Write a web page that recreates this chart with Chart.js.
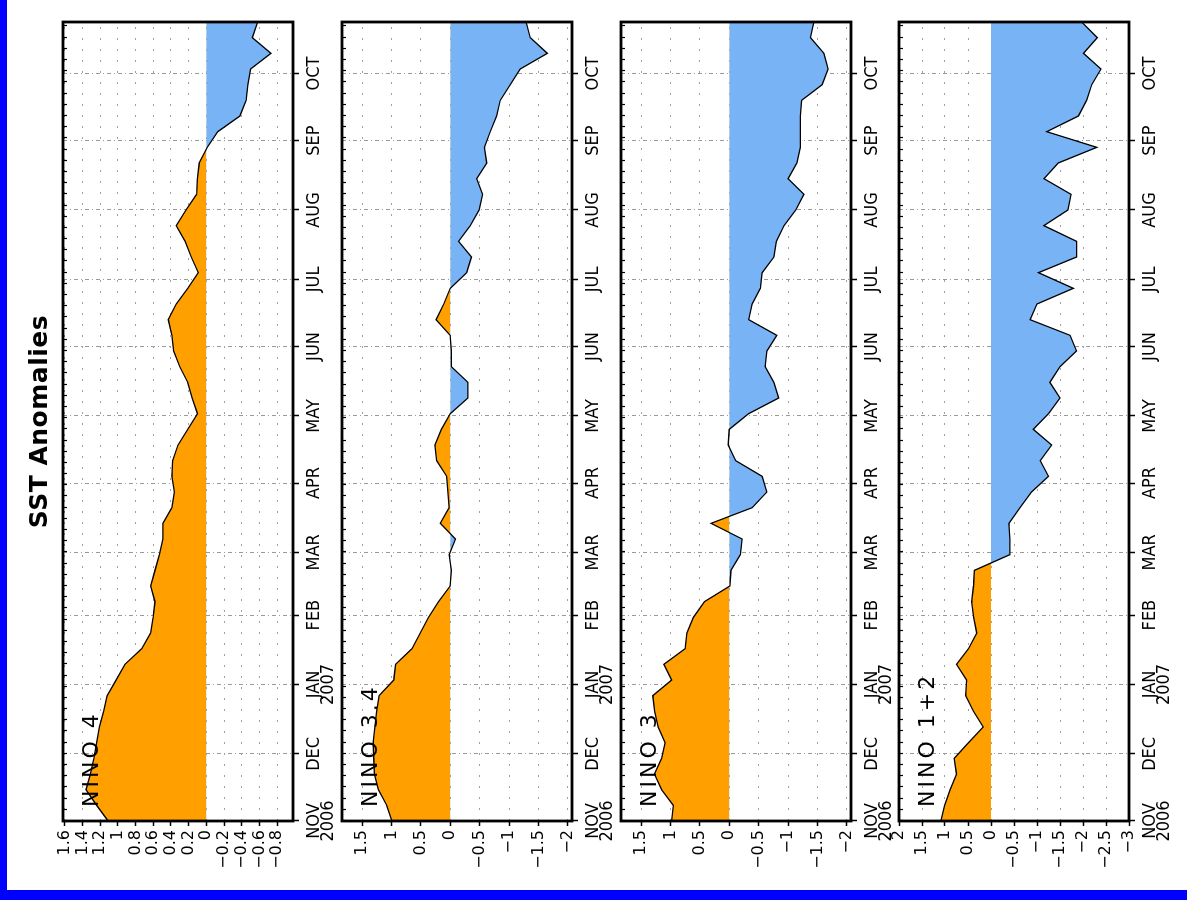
<!DOCTYPE html>
<html>
<head>
<meta charset="utf-8">
<title>SST Anomalies</title>
<script src="https://cdn.jsdelivr.net/npm/chart.js@4.4.1/dist/chart.umd.min.js"></script>
<style>
  html, body { margin: 0; padding: 0; background: #fff; overflow: hidden; }
  /* the sheet is laid out upright, then turned a quarter to the left */
  #page { position: absolute; left: 0; top: 0; width: 900px; height: 1187px; background: #fff;
          transform-origin: 0 0; transform: translate(0, 900px) rotate(-90deg); overflow: hidden; }
  #page canvas { position: absolute; left: 0; }
  .edge { position: absolute; background: #0000ff; }
</style>
</head>
<body>
<div id="page">
  <canvas id="c4" width="900" height="338" style="top:0"></canvas>
  <canvas id="c34" width="900" height="290" style="top:327px"></canvas>
  <canvas id="c3" width="900" height="290" style="top:606px"></canvas>
  <canvas id="c12" width="900" height="290" style="top:884px"></canvas>
  <div class="edge" style="left:0;top:0;width:900px;height:7px"></div>
  <div class="edge" style="left:0;top:0;width:10px;height:1187px"></div>
</div>
<script>
// weekly centres (Wednesdays)
const weeks = [
  "2006-11-01","2006-11-08","2006-11-15","2006-11-22","2006-11-29",
  "2006-12-06","2006-12-13","2006-12-20","2006-12-27",
  "2007-01-03","2007-01-10","2007-01-17","2007-01-24","2007-01-31",
  "2007-02-07","2007-02-14","2007-02-21","2007-02-28",
  "2007-03-07","2007-03-14","2007-03-21","2007-03-28",
  "2007-04-04","2007-04-11","2007-04-18","2007-04-25",
  "2007-05-02","2007-05-09","2007-05-16","2007-05-23","2007-05-30",
  "2007-06-06","2007-06-13","2007-06-20","2007-06-27",
  "2007-07-04","2007-07-11","2007-07-18","2007-07-25",
  "2007-08-01","2007-08-08","2007-08-15","2007-08-22","2007-08-29",
  "2007-09-05","2007-09-12","2007-09-19","2007-09-26",
  "2007-10-03","2007-10-10","2007-10-17","2007-10-24"
];

// SST anomalies (deg C)
const nino4 = [1.11,1.24,1.36,1.31,1.27,1.24,1.21,1.16,1.12,1.02,0.92,0.73,0.63,0.60,0.58,0.63,0.58,0.53,0.49,0.49,
  0.39,0.36,0.39,0.38,0.32,0.21,0.10,0.16,0.21,0.30,0.37,0.39,0.43,0.34,0.21,0.09,0.17,0.24,0.34,0.23,
  0.11,0.10,0.08,-0.01,-0.13,-0.38,-0.45,-0.47,-0.50,-0.73,-0.52,-0.58];
const nino34 = [0.99,1.08,1.22,1.29,1.30,1.31,1.28,1.25,1.21,0.96,0.93,0.65,0.51,0.37,0.20,0.00,-0.02,0.02,-0.09,0.17,
  0.02,0.04,0.06,0.23,0.26,0.15,0.00,-0.30,-0.30,-0.02,-0.02,0.00,0.24,0.11,0.00,-0.28,-0.36,-0.14,-0.34,-0.49,
  -0.55,-0.45,-0.62,-0.58,-0.68,-0.79,-0.85,-1.02,-1.19,-1.65,-1.36,-1.29];
const nino3 = [0.98,0.95,1.15,1.27,1.15,1.09,1.21,1.27,1.30,0.98,1.11,0.75,0.72,0.61,0.42,-0.01,-0.03,-0.19,-0.22,0.31,
  -0.39,-0.64,-0.56,-0.11,0.02,0.00,-0.33,-0.84,-0.76,-0.61,-0.64,-0.81,-0.33,-0.39,-0.53,-0.56,-0.76,-0.80,-0.93,-1.13,
  -1.27,-1.00,-1.15,-1.21,-1.21,-1.21,-1.23,-1.58,-1.68,-1.61,-1.38,-1.44];
const nino12 = [1.09,1.01,0.89,0.75,0.80,0.49,0.17,0.38,0.55,0.53,0.75,0.49,0.31,0.38,0.42,0.38,0.36,-0.41,-0.41,-0.39,
  -0.63,-0.88,-1.25,-1.07,-1.32,-0.92,-1.25,-1.50,-1.28,-1.50,-1.86,-1.72,-0.85,-1.00,-1.79,-1.03,-1.86,-1.86,-1.15,-1.67,
  -1.74,-1.15,-1.46,-2.30,-1.21,-1.90,-2.08,-2.19,-2.39,-2.01,-2.31,-1.97];

// time axis
const monthStarts = ["2006-11-01","2006-12-01","2007-01-01","2007-02-01","2007-03-01","2007-04-01",
  "2007-05-01","2007-06-01","2007-07-01","2007-08-01","2007-09-01","2007-10-01"];
const monthLabels = [["NOV","2006"],"DEC",["JAN","2007"],"FEB","MAR","APR","MAY","JUN","JUL","AUG","SEP","OCT"];

// value axes
const nino4Ticks = [1.6,1.4,1.2,1,0.8,0.6,0.4,0.2,0,-0.2,-0.4,-0.6,-0.8];
const nino34Ticks = [1.5,1,0.5,0,-0.5,-1,-1.5,-2];
const nino3Ticks = [1.5,1,0.5,0,-0.5,-1,-1.5,-2];
const nino12Ticks = [2,1.5,1,0.5,0,-0.5,-1,-1.5,-2,-2.5,-3];

const t0 = Date.parse(weeks[0]);
const dayOf = d => (Date.parse(d) - t0) / 86400000;
const lastDay = dayOf(weeks[weeks.length - 1]);
const fmt = v => (v < 0 ? "\u2212" : "") + String(Math.abs(v));

const FONT = "'DejaVu Sans', 'Liberation Sans', sans-serif";
const NARROW = "'DejaVu Sans Condensed', 'Liberation Sans Narrow', 'DejaVu Sans', sans-serif";

// frame, minor ticks, area name and sheet title
const framePlugin = {
  id: "panelFrame",
  afterDraw(chart, args, opts) {
    const { ctx, chartArea: a, scales } = chart;
    ctx.save();
    ctx.strokeStyle = "#000";
    ctx.lineWidth = 1.2;
    ctx.beginPath();
    for (let d = 0; d <= lastDay; d += 5) {
      const x = Math.round(scales.x.getPixelForValue(d)) + 0.5;
      ctx.moveTo(x, a.top);
      ctx.lineTo(x, a.top + 4);
    }
    ctx.stroke();
    ctx.lineWidth = 2.8;
    ctx.strokeRect(a.left, a.top, a.right - a.left, a.bottom - a.top);

    ctx.fillStyle = "#000";
    ctx.textBaseline = "alphabetic";
    ctx.textAlign = "left";
    ctx.font = "22px " + FONT;
    ctx.letterSpacing = "3px";
    ctx.fillText(opts.name, a.left + 14, a.top + 35);
    if (opts.title) {
      ctx.letterSpacing = "0.5px";
      ctx.textAlign = "center";
      ctx.font = "bold 25px " + FONT;
      ctx.fillText(opts.title, (a.left + a.right) / 2, 47);
    }
    ctx.restore();
  }
};

function makePanel(id, values, tickVals, yMin, yMax, name, padTop, title) {
  new Chart(document.getElementById(id), {
    type: "line",
    data: {
      datasets: [{
        data: weeks.map((d, i) => ({ x: dayOf(d), y: values[i] })),
        borderColor: "#000",
        borderWidth: 1.3,
        pointRadius: 0,
        tension: 0,
        fill: { target: { value: 0 }, above: "#ffa000", below: "#78b4f5" }
      }]
    },
    options: {
      responsive: false,
      animation: false,
      layout: { padding: { left: 0, right: 22, top: padTop, bottom: 0 } },
      plugins: {
        legend: { display: false },
        tooltip: { enabled: false },
        panelFrame: { name: name, title: title }
      },
      scales: {
        x: {
          type: "linear",
          min: 0,
          max: lastDay,
          z: 1,
          afterBuildTicks: s => { s.ticks = monthStarts.map(m => ({ value: dayOf(m) })); },
          afterFit: s => { s.height = 45; },
          ticks: {
            autoSkip: false,
            maxRotation: 0,
            minRotation: 0,
            padding: 8,
            color: "#000",
            font: { family: NARROW, size: 18, lineHeight: 0.78 },
            callback: (v, i) => monthLabels[i]
          },
          grid: { color: "#9a9a9a", lineWidth: 1, tickLength: 6, tickColor: "#000", tickWidth: 1.5 },
          border: { display: false, dash: [4, 3, 1, 3] }
        },
        y: {
          min: yMin,
          max: yMax,
          z: 1,
          afterBuildTicks: s => { s.ticks = tickVals.map(v => ({ value: v })); },
          afterFit: s => { s.width = 79; },
          ticks: {
            autoSkip: false,
            padding: 4,
            color: "#000",
            font: { family: FONT, size: 16 },
            callback: v => fmt(v)
          },
          grid: { color: "#a0a0a0", lineWidth: 1, tickLength: 5, tickColor: "#000", tickWidth: 1.5 },
          border: { display: false, dash: [2, 9] }
        }
      }
    },
    plugins: [framePlugin]
  });
}

makePanel("c4", nino4, nino4Ticks, -0.98, 1.62, "NINO 4", 63, "SST Anomalies");
makePanel("c34", nino34, nino34Ticks, -2.07, 1.84, "NINO 3.4", 15);
makePanel("c3", nino3, nino3Ticks, -2.07, 1.84, "NINO 3", 15);
makePanel("c12", nino12, nino12Ticks, -3, 2, "NINO 1+2", 15);
</script>
</body>
</html>
